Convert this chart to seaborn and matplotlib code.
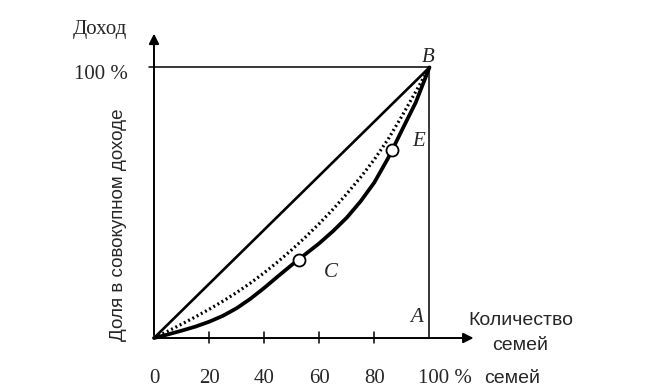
import numpy as np
import pandas as pd
import matplotlib
matplotlib.use("Agg")
import matplotlib.pyplot as plt
import seaborn as sns

# Daten, Anteile in %
diag_x = [0, 100]
diag_y = [0, 100]

dotted_x = [0, 5, 10, 15, 20, 25, 30, 35, 40, 45, 50, 55, 60, 65, 70, 75, 80, 85, 90, 95, 100]
dotted_y = [0, 2.5, 5.1, 7.8, 10.6, 13.6, 16.8, 20.3, 24.1, 28.2, 32.6, 37.3, 42.3,
            47.6, 53.3, 59.4, 66, 73.5, 82, 91, 100]

lorenz_x = [0, 5, 10, 15, 20, 25, 30, 35, 40, 45, 50, 52.5, 55, 60, 65, 70, 75, 80, 85,
            86.5, 90, 95, 100]
lorenz_y = [0, 1.3, 2.7, 4.2, 6, 8.2, 11, 14.5, 18.5, 22.8, 27, 29, 31, 35, 39.5, 44.5,
            50.5, 57.5, 66.5, 69.5, 76.8, 87, 100]

marker_x = [52.5, 86.5]
marker_y = [29, 69.5]

tick_vals = [20, 40, 60, 80]
tick_labels = ["0", "20", "40", "60", "80"]

sns.set_style("white")
plt.rcParams['font.family'] = ['Liberation Serif', 'DejaVu Serif']

fig = plt.figure(figsize=(6.46, 3.92), dpi=100)
ax = fig.add_axes([0, 0, 1, 1])
ax.set_xlim(-55.9, 178.6)
ax.set_ylim(-19.95, 124.9)
ax.axis("off")

# Achsen mit Pfeilen
ax.annotate("", xy=(117, 0), xytext=(0, 0),
            arrowprops=dict(arrowstyle="-|>", color="black", lw=1.4, mutation_scale=15))
ax.annotate("", xy=(0, 113.5), xytext=(0, 0),
            arrowprops=dict(arrowstyle="-|>", color="black", lw=1.4, mutation_scale=15))

# Rahmen oben und rechts
ax.plot([0, 100], [100, 100], color="black", lw=1.1)
ax.plot([100, 100], [0, 100], color="black", lw=1.1)
ax.plot([-1.8, 0], [100, 100], color="black", lw=1.1)

# Teilstriche
for t in tick_vals:
    ax.plot([t, t], [-1.8, 2.2], color="black", lw=1.1)

# Kurven
sns.lineplot(x=diag_x, y=diag_y, ax=ax, color="black", lw=1.9, sort=False)
sns.lineplot(x=dotted_x, y=dotted_y, ax=ax, color="black", lw=2.3, sort=False,
             linestyle=(0, (0.6, 0.9)))
sns.lineplot(x=lorenz_x, y=lorenz_y, ax=ax, color="black", lw=2.7, sort=False)
sns.scatterplot(x=marker_x, y=marker_y, ax=ax, s=75, color="white",
                edgecolor="black", linewidth=1.3, zorder=5)

# Beschriftungen
for lab, val in zip(tick_labels, [0] + tick_vals):
    ax.text(val, -14.8, lab, ha="center", va="center", fontsize=15)
ax.text(96.0, -14.8, "100 %", ha="left", va="center", fontsize=15)
ax.text(130.0, -14.8, "семей", ha="center", va="center", fontsize=14,
        family="Liberation Sans")

ax.text(133.0, 6.6, "Количество", ha="center", va="center", fontsize=14,
        family="Liberation Sans")
ax.text(133.0, -2.6, "семей", ha="center", va="center", fontsize=14,
        family="Liberation Sans")

ax.text(-19.6, 114.0, "Доход", ha="center", va="center", fontsize=15)
ax.text(-9.3, 97.4, "100 %", ha="right", va="center", fontsize=15)
ax.text(-12.8, 42.0, "Доля в совокупном доходе", ha="center", va="center",
        rotation=90, fontsize=13.5, family="Liberation Sans")

ax.text(99.4, 103.7, "B", ha="center", va="center", fontsize=15, style="italic")
ax.text(96.0, 72.5, "E", ha="center", va="center", fontsize=15, style="italic")
ax.text(64.0, 24.2, "C", ha="center", va="center", fontsize=15, style="italic")
ax.text(95.3, 7.4, "A", ha="center", va="center", fontsize=15, style="italic")

fig.savefig("out.png", dpi=100, facecolor="white")
